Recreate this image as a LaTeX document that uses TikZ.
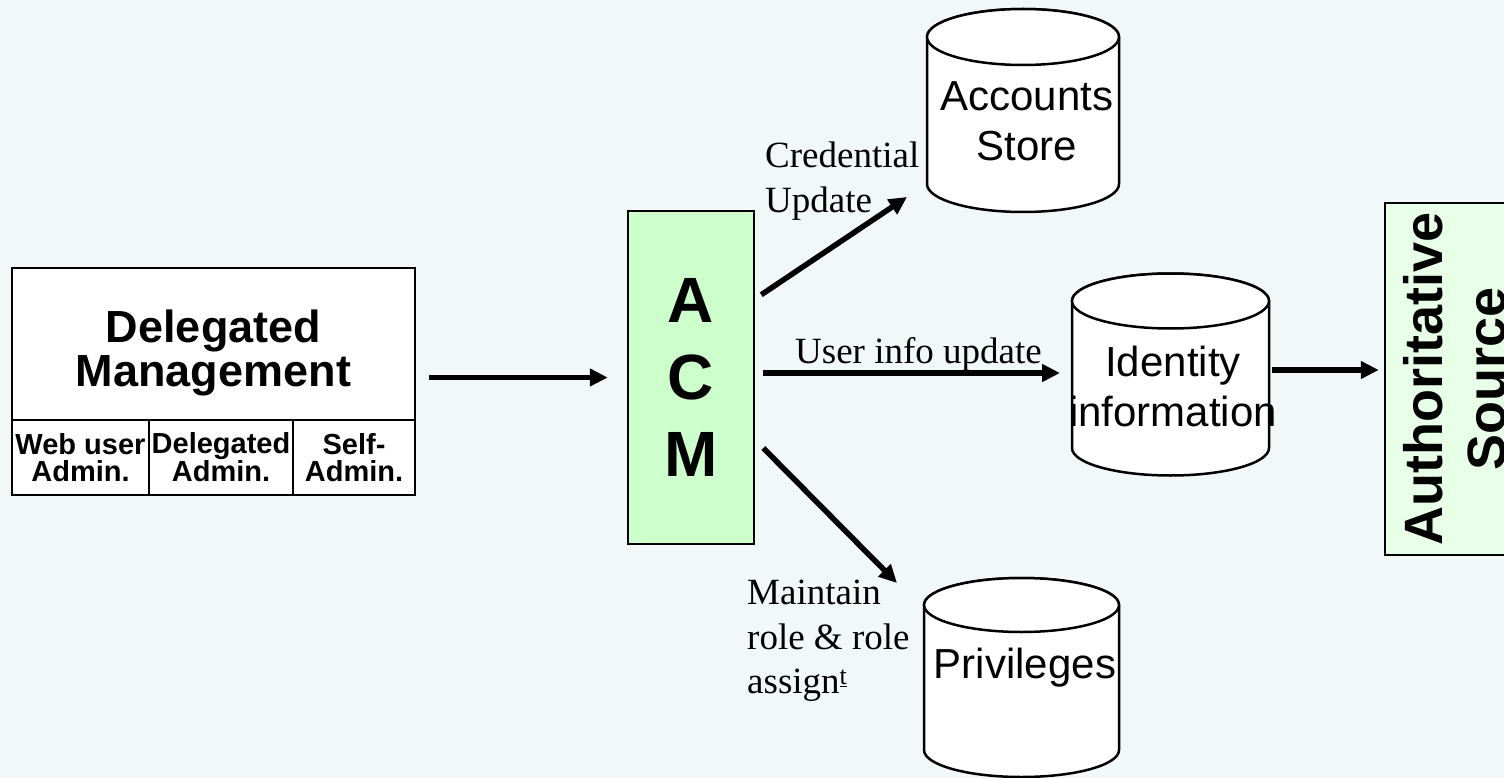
\documentclass[tikz,border=0pt]{standalone}
\usepackage{fontspec}
\setmainfont{Liberation Serif}
\newfontfamily\arialf{Liberation Sans}
\usetikzlibrary{arrows.meta,calc}
\definecolor{bgc}{RGB}{242,247,247}
\definecolor{acmgreen}{RGB}{204,255,204}
\definecolor{authgreen}{RGB}{232,255,232}
\begin{document}
\begin{tikzpicture}[x=1pt,y=-1pt,
  arr/.style={line width=5.5pt,-{Triangle[length=18pt,width=17pt]}},
  frame/.style={draw=black,line width=2.5pt,inner sep=0pt},
  cyl/.style={draw=black,line width=2.5pt,fill=white},
  ghost/.style={inner sep=0pt,outer sep=0pt,draw=none},
  serif/.style={font=\fontsize{37}{45}\selectfont,inner sep=0pt,align=left},
  sanslbl/.style={font=\arialf\fontsize{42}{50}\selectfont,inner sep=0pt,align=center},
  cellbox/.style={frame,fill=white,minimum height=75pt,font=\arialf\bfseries\fontsize{29}{27}\selectfont,align=center}
]
\useasboundingbox (0,0) rectangle (1504,778);
\clip (0,0) rectangle (1504,778);
\fill[bgc] (0,0) rectangle (1504,778);

% Delegated Management
\node[frame,fill=white,minimum width=403pt,minimum height=152pt] (dmtop) at (213.5,344) {};
\node[inner sep=0pt,font=\arialf\bfseries\fontsize{45}{44}\selectfont,align=center] (dmlbl) at (213.5,353) {Delegated\\Management};
\node[cellbox,minimum width=137pt] (c1) at (80.5,457.5) {Web user\\Admin.};
\node[cellbox,minimum width=144pt] (c2) at (221,457.5) {Delegated\\Admin.};
\node[cellbox,minimum width=122pt] (c3) at (354,457.5) {Self-\\Admin.};

% ACM
\node[frame,fill=acmgreen,minimum width=126pt,minimum height=333pt,font=\arialf\bfseries\fontsize{64}{77}\selectfont,align=center] (acm) at (691,377.5) {A\\C\\M};

% Authoritative Source
\node[frame,fill=authgreen,rotate=90,minimum width=352pt,minimum height=140pt,font=\arialf\bfseries\fontsize{54}{63}\selectfont,align=center] (auth) at (1455,379) {Authoritative\\Source};

% Cylinders
\filldraw[cyl] (927,37) -- (927,184) arc[start angle=180,end angle=0,x radius=96,y radius=28] -- (1119,37) arc[start angle=0,end angle=-180,x radius=96,y radius=28] -- cycle;
\draw[cyl] (1023,37) ellipse[x radius=96,y radius=28];
\node[ghost,minimum width=192pt,minimum height=203pt] (acc) at (1023,110.5) {};
\node[sanslbl] (acct) at (1027,121) {Accounts\\Store};

\filldraw[cyl] (1072,301) -- (1072,448) arc[start angle=180,end angle=0,x radius=98.5,y radius=27.5] -- (1269,301) arc[start angle=0,end angle=-180,x radius=98.5,y radius=27.5] -- cycle;
\draw[cyl] (1170.5,301) ellipse[x radius=98.5,y radius=27.5];
\node[ghost,minimum width=197pt,minimum height=202pt] (idt) at (1170.5,374.5) {};
\node[sanslbl] (idtt) at (1173,386) {Identity\\information};

\filldraw[cyl] (924,605) -- (924,750) arc[start angle=180,end angle=0,x radius=97.5,y radius=27] -- (1119,605) arc[start angle=0,end angle=-180,x radius=97.5,y radius=27] -- cycle;
\draw[cyl] (1021.5,605) ellipse[x radius=97.5,y radius=27];
\node[ghost,minimum width=195pt,minimum height=199pt] (priv) at (1021.5,677.5) {};
\node[sanslbl] (privt) at (1025,667.5) {Privileges};

% Labels
\node[serif,anchor=north west] (credlbl) at (765,142) {Credential\\Update};
\node[serif,anchor=base west] (uiulbl) at (795,363) {User info update};
\node[serif,anchor=north west,font=\fontsize{37}{44.5}\selectfont] (mntlbl) at (747,580) {Maintain\\role \& role\\assign\textsuperscript{\underline{t}}};

% Connectors
\draw[arr,shorten <=13pt,shorten >=19pt] (dmtop.east |- acm.west) -- (acm.west);
\draw[arr] ($(acm.north east)+(6,85)$) -- ($(acc.south west)+(-20,-15)$);
\draw[arr,shorten >=12pt] ($(acm.east)+(8,-4.5)$) coordinate (u) -- (u -| idt.west);
\draw[arr] ($(acm.east)+(8,70.5)$) -- ($(priv.north west)+(-27,5)$);
\draw[arr,shorten >=5pt] ($(idt.east)+(3,-4.5)$) coordinate (v) -- (v -| auth.north);
\end{tikzpicture}
\end{document}
